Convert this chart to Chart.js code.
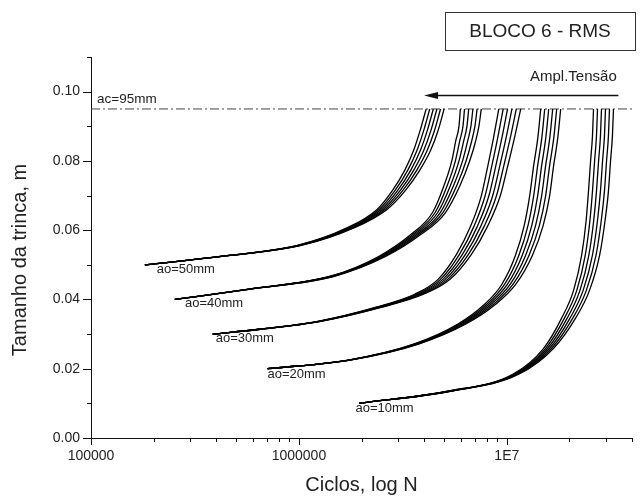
<!DOCTYPE html>
<html>
<head>
<meta charset="utf-8">
<script src="https://cdn.jsdelivr.net/npm/chart.js@4.4.1/dist/chart.umd.min.js"></script>
<style>
  html, body { margin: 0; background: #fff; }
</style>
</head>
<body>
<canvas id="crackChart" width="644" height="504"></canvas>
<script>
// axis labels
const xTickValues = [1e5, 1e6, 1e7]
const xTickLabels = ['100000', '1000000', '1E7']
const yTickLabels = ['0.00', '0.02', '0.04', '0.06', '0.08', '0.10']
const yTitle = 'Tamanho da trinca, m'

// critical crack size line
const acValue = 0.095
const acLabel = 'ac=95mm'
const acLabelN = 1.07e5
const acLabelA = 0.0977
const acLineN = [1e5, 4e7]

// initial crack labels
const aoLabels = ['ao=50mm', 'ao=40mm', 'ao=30mm', 'ao=20mm', 'ao=10mm']
const aoLabelN = [2.07e5, 2.83e5, 3.98e5, 7.06e5, 1.87e6]
const aoLabelA = [0.0487, 0.0389, 0.0288, 0.0184, 0.0086]

// stress amplitude arrow
const arrowN = [3.44e7, 4.0e6]
const arrowA = 0.0991
const arrowText = 'Ampl.Tensão'
const arrowTextN = 2.09e7
const arrowTextA = 0.1043
const boxTitle = 'BLOCO 6 - RMS'

// crack size (m) and cycles for each ao, six stress amplitudes each
const a50 = [0.050, 0.0527, 0.0556, 0.0605, 0.066, 0.0715, 0.0772, 0.083, 0.0888, 0.095]
const n50 = [
  [1.816e5, 4.60e5, 0.983e6, 1.680e6, 2.377e6, 2.820e6, 3.222e6, 3.560e6, 3.829e6, 4.092e6],
  [1.816e5, 4.62e5, 0.992e6, 1.706e6, 2.430e6, 2.902e6, 3.330e6, 3.696e6, 3.985e6, 4.258e6],
  [1.816e5, 4.64e5, 1.001e6, 1.732e6, 2.484e6, 2.987e6, 3.443e6, 3.837e6, 4.147e6, 4.431e6],
  [1.816e5, 4.66e5, 1.009e6, 1.760e6, 2.540e6, 3.074e6, 3.558e6, 3.984e6, 4.315e6, 4.611e6],
  [1.816e5, 4.68e5, 1.018e6, 1.787e6, 2.597e6, 3.163e6, 3.679e6, 4.136e6, 4.490e6, 4.798e6],
  [1.816e5, 4.70e5, 1.027e6, 1.815e6, 2.655e6, 3.255e6, 3.802e6, 4.295e6, 4.672e6, 4.993e6]
]

const a40 = [0.040, 0.043, 0.0467, 0.0524, 0.0588, 0.0651, 0.0729, 0.0801, 0.0859, 0.0902, 0.095]
const n40 = [
  [2.53e5, 5.726e5, 1.417e6, 2.417e6, 3.463e6, 4.393e6, 4.989e6, 5.441e6, 5.686e6, 5.892e6, 5.976e6],
  [2.53e5, 5.752e5, 1.430e6, 2.454e6, 3.541e6, 4.521e6, 5.169e6, 5.662e6, 5.943e6, 6.158e6, 6.259e6],
  [2.53e5, 5.777e5, 1.443e6, 2.493e6, 3.620e6, 4.653e6, 5.355e6, 5.892e6, 6.211e6, 6.436e6, 6.556e6],
  [2.53e5, 5.803e5, 1.455e6, 2.532e6, 3.701e6, 4.788e6, 5.547e6, 6.131e6, 6.492e6, 6.727e6, 6.868e6],
  [2.53e5, 5.828e5, 1.468e6, 2.571e6, 3.783e6, 4.928e6, 5.746e6, 6.380e6, 6.785e6, 7.031e6, 7.194e6],
  [2.53e5, 5.854e5, 1.481e6, 2.611e6, 3.868e6, 5.071e6, 5.954e6, 6.639e6, 7.092e6, 7.349e6, 7.535e6]
]

const a30 = [0.030, 0.0314, 0.0337, 0.0378, 0.0415, 0.0458, 0.053, 0.0611, 0.070, 0.0787, 0.0865, 0.095]
const n30 = [
  [3.85e5, 6.399e5, 1.232e6, 2.353e6, 3.601e6, 4.670e6, 5.726e6, 6.692e6, 7.545e6, 8.112e6, 8.621e6, 9.148e6],
  [3.85e5, 6.427e5, 1.241e6, 2.384e6, 3.674e6, 4.795e6, 5.918e6, 6.948e6, 7.869e6, 8.479e6, 9.029e6, 9.604e6],
  [3.85e5, 6.456e5, 1.249e6, 2.416e6, 3.748e6, 4.925e6, 6.118e6, 7.214e6, 8.206e6, 8.862e6, 9.458e6, 1.0082e7],
  [3.85e5, 6.484e5, 1.257e6, 2.448e6, 3.823e6, 5.056e6, 6.324e6, 7.489e6, 8.558e6, 9.262e6, 9.907e6, 1.0584e7],
  [3.85e5, 6.513e5, 1.266e6, 2.481e6, 3.900e6, 5.193e6, 6.537e6, 7.776e6, 8.925e6, 9.681e6, 1.0378e7, 1.1111e7],
  [3.85e5, 6.542e5, 1.274e6, 2.514e6, 3.978e6, 5.332e6, 6.757e6, 8.073e6, 9.307e6, 1.0118e7, 1.0870e7, 1.1665e7]
]

const a20 = [0.020, 0.0225, 0.0271, 0.0329, 0.0383, 0.0444, 0.0527, 0.0614, 0.070, 0.0787, 0.0865, 0.095]
const n20 = [
  [7.06e5, 1.727e6, 3.560e6, 5.817e6, 7.717e6, 9.470e6, 1.0998e7, 1.2129e7, 1.2885e7, 1.3467e7, 1.4085e7, 1.4560e7],
  [7.06e5, 1.734e6, 3.600e6, 5.921e6, 7.907e6, 9.766e6, 1.1419e7, 1.2648e7, 1.3467e7, 1.4076e7, 1.4722e7, 1.5217e7],
  [7.06e5, 1.742e6, 3.640e6, 6.026e6, 8.101e6, 1.0073e7, 1.1856e7, 1.3190e7, 1.4076e7, 1.4712e7, 1.5387e7, 1.5905e7],
  [7.06e5, 1.750e6, 3.680e6, 6.134e6, 8.300e6, 1.0390e7, 1.2308e7, 1.3756e7, 1.4711e7, 1.5376e7, 1.6081e7, 1.6622e7],
  [7.06e5, 1.757e6, 3.721e6, 6.244e6, 8.504e6, 1.0716e7, 1.2779e7, 1.4346e7, 1.5376e7, 1.6070e7, 1.6808e7, 1.7374e7],
  [7.06e5, 1.765e6, 3.762e6, 6.355e6, 8.713e6, 1.1051e7, 1.3269e7, 1.4960e7, 1.6071e7, 1.6797e7, 1.7567e7, 1.8159e7]
]

const a10 = [0.010, 0.0135, 0.0184, 0.0259, 0.0346, 0.0427, 0.0527, 0.0628, 0.0715, 0.0801, 0.0873, 0.095]
const n10 = [
  [1.95e6, 5.183e6, 1.0680e7, 1.5036e7, 1.8347e7, 2.0963e7, 2.2895e7, 2.4068e7, 2.4723e7, 2.5295e7, 2.5824e7, 2.6120e7],
  [1.95e6, 5.218e6, 1.0823e7, 1.5372e7, 1.8921e7, 2.1719e7, 2.3825e7, 2.5099e7, 2.5840e7, 2.6439e7, 2.6991e7, 2.7300e7],
  [1.95e6, 5.253e6, 1.0967e7, 1.5716e7, 1.9516e7, 2.2499e7, 2.4792e7, 2.6175e7, 2.7008e7, 2.7634e7, 2.8211e7, 2.8534e7],
  [1.95e6, 5.288e6, 1.1113e7, 1.6066e7, 2.0129e7, 2.3308e7, 2.5798e7, 2.7297e7, 2.8226e7, 2.8881e7, 2.9484e7, 2.9821e7],
  [1.95e6, 5.323e6, 1.1262e7, 1.6425e7, 2.0761e7, 2.4146e7, 2.6845e7, 2.8467e7, 2.9501e7, 3.0185e7, 3.0816e7, 3.1168e7],
  [1.95e6, 5.358e6, 1.1412e7, 1.6793e7, 2.1411e7, 2.5016e7, 2.7935e7, 2.9686e7, 3.0835e7, 3.1550e7, 3.2209e7, 3.2577e7]
]

const FONT = '"Liberation Sans", Arial, Helvetica, sans-serif'
const INK = '#222'

Chart.defaults.font.family = FONT
Chart.defaults.color = INK

function isDecade(v) {
  const e = Math.log10(v)
  return Math.abs(e - Math.round(e)) < 1e-9
}

function curveSets(aArr, nGroup) {
  return nGroup.map(nArr => ({
    data: nArr.map((n, i) => ({ x: n, y: aArr[i] })),
    borderColor: '#000',
    borderWidth: 1.3,
    pointRadius: 0,
    cubicInterpolationMode: 'monotone',
    fill: false
  }))
}

const datasets = [
  ...curveSets(a50, n50),
  ...curveSets(a40, n40),
  ...curveSets(a30, n30),
  ...curveSets(a20, n20),
  ...curveSets(a10, n10),
  {
    data: acLineN.map(n => ({ x: n, y: acValue })),
    borderColor: '#444',
    borderWidth: 1,
    borderDash: [9, 3, 2, 3],
    pointRadius: 0,
    fill: false
  }
]

// short outward tick marks, longer on labelled values
const tickMarks = {
  id: 'tickMarks',
  afterDraw(chart) {
    const { ctx, scales: { x, y } } = chart
    ctx.save()
    ctx.strokeStyle = '#111'
    ctx.lineWidth = 1
    ctx.beginPath()
    x.ticks.forEach(t => {
      const px = Math.round(x.getPixelForValue(t.value)) + 0.5
      const len = isDecade(t.value) ? 7 : 4
      ctx.moveTo(px, x.top)
      ctx.lineTo(px, x.top + len)
    })
    y.ticks.forEach(t => {
      const py = Math.round(y.getPixelForValue(t.value)) + 0.5
      const len = Math.round(t.value * 100) % 2 === 0 ? 8 : 4
      ctx.moveTo(y.right, py)
      ctx.lineTo(y.right - len, py)
    })
    ctx.stroke()
    ctx.restore()
  }
}

// annotations: ao / ac labels, arrow, y title and the block box
const annotations = {
  id: 'annotations',
  afterDraw(chart) {
    const { ctx, scales: { x, y } } = chart
    ctx.save()
    ctx.fillStyle = INK
    ctx.textBaseline = 'middle'
    ctx.textAlign = 'left'
    ctx.font = `13px ${FONT}`
    aoLabels.forEach((t, i) => {
      ctx.fillText(t, x.getPixelForValue(aoLabelN[i]), y.getPixelForValue(aoLabelA[i]))
    })
    ctx.font = `13.5px ${FONT}`
    ctx.fillText(acLabel, x.getPixelForValue(acLabelN), y.getPixelForValue(acLabelA))

    // arrow pointing to lower amplitudes
    const ax1 = x.getPixelForValue(arrowN[0])
    const ax2 = x.getPixelForValue(arrowN[1])
    const ay = Math.round(y.getPixelForValue(arrowA)) + 0.5
    ctx.strokeStyle = '#111'
    ctx.lineWidth = 1.3
    ctx.beginPath()
    ctx.moveTo(ax1, ay)
    ctx.lineTo(ax2 + 10, ay)
    ctx.stroke()
    ctx.fillStyle = '#111'
    ctx.beginPath()
    ctx.moveTo(ax2, ay)
    ctx.lineTo(ax2 + 14, ay - 3.5)
    ctx.lineTo(ax2 + 14, ay + 3.5)
    ctx.closePath()
    ctx.fill()

    ctx.fillStyle = INK
    ctx.textAlign = 'center'
    ctx.font = `15px ${FONT}`
    ctx.fillText(arrowText, x.getPixelForValue(arrowTextN), y.getPixelForValue(arrowTextA))

    // vertical axis title
    ctx.save()
    ctx.translate(20, 260)
    ctx.rotate(-Math.PI / 2)
    ctx.font = `20px ${FONT}`
    ctx.fillText(yTitle, 0, 0)
    ctx.restore()

    // title box
    ctx.strokeStyle = '#333'
    ctx.lineWidth = 1
    ctx.strokeRect(445.5, 12.5, 190, 38)
    ctx.font = `19px ${FONT}`
    ctx.fillText(boxTitle, 540, 32)
    ctx.restore()
  }
}

new Chart(document.getElementById('crackChart'), {
  type: 'line',
  data: { datasets },
  plugins: [tickMarks, annotations],
  options: {
    responsive: false,
    animation: false,
    events: [],
    layout: { padding: { top: 57, right: 12, left: 0, bottom: 0 } },
    plugins: { legend: { display: false }, tooltip: { enabled: false } },
    scales: {
      x: {
        type: 'logarithmic',
        min: 1e5,
        max: 4e7,
        border: { display: true, color: '#111', width: 1 },
        grid: { drawOnChartArea: false, tickLength: 7, tickColor: 'rgba(0,0,0,0)' },
        afterBuildTicks(scale) {
          scale.ticks = scale.ticks.filter(t => {
            const m = t.value / Math.pow(10, Math.floor(Math.log10(t.value) + 1e-9))
            return Math.abs(m - Math.round(m)) < 1e-6
          })
        },
        afterFit(scale) { scale.height = 66 },
        ticks: {
          autoSkip: false,
          maxRotation: 0,
          padding: 3,
          color: INK,
          font: { size: 14 },
          callback(v) {
            const i = xTickValues.findIndex(t => Math.abs(t - v) < 1)
            return i >= 0 ? xTickLabels[i] : ''
          }
        },
        title: {
          display: true,
          text: 'Ciclos, log N',
          color: INK,
          font: { size: 20 },
          padding: { top: 0, bottom: 7 }
        }
      },
      y: {
        type: 'linear',
        min: 0,
        max: 0.11,
        border: { display: true, color: '#111', width: 1 },
        grid: { drawOnChartArea: false, tickLength: 8, tickColor: 'rgba(0,0,0,0)' },
        afterFit(scale) { scale.width = 91 },
        ticks: {
          stepSize: 0.01,
          autoSkip: false,
          padding: 3,
          color: INK,
          font: { size: 14 },
          callback(v) {
            const i = Math.round(v * 100)
            return i % 2 === 0 && i <= 10 ? yTickLabels[i / 2] : ''
          }
        },
        title: { display: false }
      }
    }
  }
})
</script>
</body>
</html>
